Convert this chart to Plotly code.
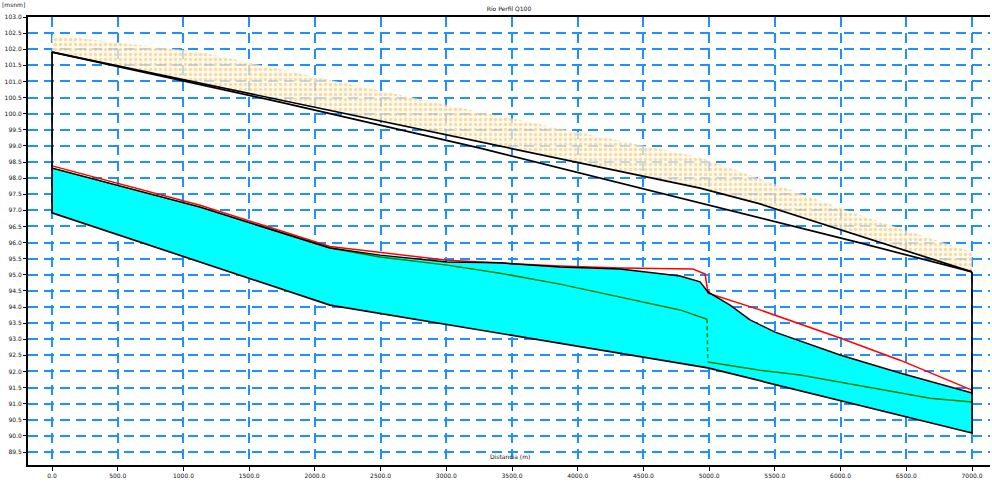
import plotly.graph_objects as go

# ---- data ----
x_ticks = [0, 500, 1000, 1500, 2000, 2500, 3000, 3500, 4000, 4500, 5000, 5500, 6000, 6500, 7000]
x_tick_labels = ["0.0", "500.0", "1000.0", "1500.0", "2000.0", "2500.0", "3000.0", "3500.0",
                 "4000.0", "4500.0", "5000.0", "5500.0", "6000.0", "6500.0", "7000.0"]
y_ticks = [89.5, 90.0, 90.5, 91.0, 91.5, 92.0, 92.5, 93.0, 93.5, 94.0, 94.5, 95.0, 95.5, 96.0,
           96.5, 97.0, 97.5, 98.0, 98.5, 99.0, 99.5, 100.0, 100.5, 101.0, 101.5, 102.0, 102.5, 103.0]
y_tick_labels = ["89.5", "90.0", "90.5", "91.0", "91.5", "92.0", "92.5", "93.0", "93.5", "94.0",
                 "94.5", "95.0", "95.5", "96.0", "96.5", "97.0", "97.5", "98.0", "98.5", "99.0",
                 "99.5", "100.0", "100.5", "101.0", "101.5", "102.0", "102.5", "103.0"]

# channel bottom (thalweg) with vertical ends up to bank tops
bed_x = [0, 0, 2115, 4990, 7000, 7000]
bed_z = [101.91, 96.92, 94.06, 92.11, 90.09, 95.09]

# water surface
ws_x = [0, 1126, 2115, 2496, 3006, 3409, 3865, 4322, 4778, 4931, 4990, 5159, 5311, 5501, 5996, 6452, 7000]
ws_z = [98.31, 97.10, 95.83, 95.61, 95.40, 95.37, 95.24, 95.18, 94.96, 94.78, 94.47, 94.06, 93.60,
        93.22, 92.51, 91.95, 91.33]

# energy grade line
eg_x = [0, 1126, 2115, 3006, 3865, 4322, 4877, 4969, 4992, 5387, 5996, 6452, 7000]
eg_z = [98.38, 97.16, 95.88, 95.45, 95.27, 95.21, 95.18, 95.02, 94.43, 93.91, 93.04, 92.35, 91.42]

# critical depth (upstream reach, jump, downstream reach)
crit_up_x = [0, 1126, 2115, 2496, 3006, 3409, 3865, 4322, 4778, 4984]
crit_up_z = [98.31, 97.10, 95.83, 95.55, 95.30, 95.05, 94.71, 94.31, 93.91, 93.62]
crit_jump_x = [4984, 4990]
crit_jump_z = [93.62, 92.29]
crit_dn_x = [4990, 5387, 5692, 6452, 6681, 7000]
crit_dn_z = [92.29, 92.04, 91.89, 91.33, 91.17, 91.05]

# bank tops
lob_x = [0, 1735, 3257, 4931, 5387, 6148, 7000]
lob_z = [101.91, 100.42, 99.12, 97.69, 97.20, 96.20, 95.09]
rob_x = [0, 1735, 3257, 4931, 5387, 6148, 7000]
rob_z = [101.91, 100.36, 98.93, 97.23, 96.76, 95.99, 95.09]

# levee / ground band above bank
band_x = [0, 1126, 3257, 4931, 6148, 7000]
band_z = [102.44, 101.91, 100.05, 98.65, 96.85, 95.71]

title_text = "Río Perfil Q100"
x_title = "Distancia (m)"
y_title = "[msnm]"

fig = go.Figure()

# dotted orange band
fig.add_trace(go.Scatter(
    x=band_x + lob_x[::-1], y=band_z + lob_z[::-1], fill="toself", mode="lines",
    line=dict(width=0, color="rgba(0,0,0,0)"),
    fillcolor="rgba(255,248,222,0.8)",
    fillpattern=dict(shape=".", fgcolor="rgba(240,165,60,0.8)", bgcolor="rgba(255,250,228,0.7)",
                     size=5, solidity=0.35),
    hoverinfo="skip", showlegend=False))

# water body (cyan)
fig.add_trace(go.Scatter(
    x=ws_x + bed_x[1:5][::-1], y=ws_z + bed_z[1:5][::-1], fill="toself", mode="lines",
    line=dict(width=0, color="rgba(0,0,0,0)"), fillcolor="#00FFFF",
    hoverinfo="skip", showlegend=False))

# critical depth
fig.add_trace(go.Scatter(x=crit_up_x, y=crit_up_z, mode="lines",
                         line=dict(color="#008000", width=1.5), showlegend=False))
fig.add_trace(go.Scatter(x=crit_jump_x, y=crit_jump_z, mode="lines",
                         line=dict(color="#008000", width=1.5, dash="4px,3px"), showlegend=False))
fig.add_trace(go.Scatter(x=crit_dn_x, y=crit_dn_z, mode="lines",
                         line=dict(color="#008000", width=1.5), showlegend=False))

# energy grade
fig.add_trace(go.Scatter(x=eg_x, y=eg_z, mode="lines",
                         line=dict(color="#FF0000", width=1.5), showlegend=False))
# water surface
fig.add_trace(go.Scatter(x=ws_x, y=ws_z, mode="lines",
                         line=dict(color="black", width=1.5), showlegend=False))
# bed
fig.add_trace(go.Scatter(x=bed_x, y=bed_z, mode="lines",
                         line=dict(color="black", width=1.7), showlegend=False))
# banks
fig.add_trace(go.Scatter(x=lob_x, y=lob_z, mode="lines",
                         line=dict(color="black", width=1.7), showlegend=False))
fig.add_trace(go.Scatter(x=rob_x, y=rob_z, mode="lines",
                         line=dict(color="black", width=1.7), showlegend=False))

grid_color = "#1E90FF"
tick_font = dict(family="DejaVu Sans", size=6, color="#111111")

fig.update_layout(
    width=992, height=482,
    margin=dict(l=28, r=2, t=17, b=17),
    paper_bgcolor="white", plot_bgcolor="white",
    title=dict(text=title_text, x=0.5, xanchor="center", xref="paper",
               y=1 - 9 / 482, yref="container", yanchor="middle",
               font=dict(family="DejaVu Sans", size=6, color="#111111")),
    xaxis=dict(range=[-183, 7137], tickmode="array", tickvals=x_ticks, ticktext=x_tick_labels,
               showgrid=True, gridcolor=grid_color, gridwidth=1.5, griddash="10px,6px",
               showline=True, linecolor="black", linewidth=2, mirror=True,
               ticks="outside", ticklen=4, tickcolor="black", tickwidth=1,
               zeroline=False, tickfont=tick_font, automargin=False),
    yaxis=dict(range=[89.097, 103.0], tickmode="array", tickvals=y_ticks, ticktext=y_tick_labels,
               showgrid=True, gridcolor=grid_color, gridwidth=1.5, griddash="10px,6px",
               showline=True, linecolor="black", linewidth=2, mirror=False,
               ticks="outside", ticklen=3, tickcolor="black", tickwidth=1,
               zeroline=False, tickfont=tick_font, automargin=False),
    annotations=[
        dict(text=x_title, xref="paper", yref="paper", x=0.501, y=0.018,
             xanchor="center", yanchor="middle", showarrow=False,
             font=dict(family="DejaVu Sans", size=6, color="#111111")),
        dict(text=y_title, xref="paper", yref="paper", x=-0.015, y=1.027,
             xanchor="center", yanchor="middle", showarrow=False,
             font=dict(family="DejaVu Sans", size=6, color="#111111")),
    ],
)

fig.write_html("out.html", config={"displayModeBar": False},
               post_script="document.body.style.margin='0px';document.body.style.overflow='hidden';")
